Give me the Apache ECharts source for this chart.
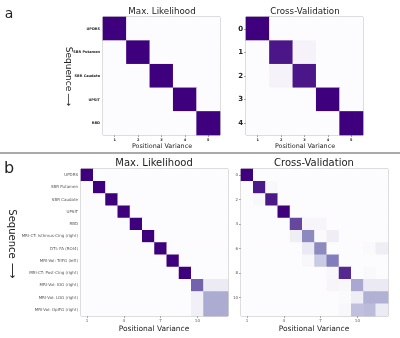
<!DOCTYPE html>
<html>
<head>
<meta charset="utf-8">
<script src="https://cdn.jsdelivr.net/npm/echarts@6/dist/echarts.min.js"></script>
<style>
  html, body { margin: 0; padding: 0; background: #fff; }
  #chart { width: 400px; height: 338px; }
</style>
</head>
<body>
<div id="chart"></div>
<script>
// panel a: 5 features
const shortCols = ['1', '2', '3', '4', '5'];
const shortRowsML = ['UPDRS', 'SBR Putamen', 'SBR Caudate', 'UPSIT', 'RBD'];
const shortRowsCV = ['0', '1', '2', '3', '4'];
const shortML = [
  [1, 0, 0, 0, 0],
  [0, 1, 0, 0, 0],
  [0, 0, 1, 0, 0],
  [0, 0, 0, 1, 0],
  [0, 0, 0, 0, 1]
];
const shortCV = [
  [1, 0, 0, 0, 0],
  [0, 0.93, 0.07, 0, 0],
  [0, 0.07, 0.93, 0, 0],
  [0, 0, 0, 1, 0],
  [0, 0, 0, 0, 1]
];

// panel b: 12 features
const longCols = ['1', '2', '3', '4', '5', '6', '7', '8', '9', '10', '11', '12'];
const longRowsML = ['UPDRS', 'SBR Putamen', 'SBR Caudate', 'UPSIT', 'RBD',
  'MRI-CT: Isthmus-Cing (right)', 'DTI: FA (ROI4)', 'MRI-Vol: TrIFG (left)',
  'MRI-CT: Post-Cing (right)', 'MRI-Vol: IOG (right)', 'MRI-Vol: LOG (right)',
  'MRI-Vol: OpIFG (right)'];
const longRowsCV = ['0', '1', '2', '3', '4', '5', '6', '7', '8', '9', '10', '11'];
const longML = [
  [1, 0, 0, 0, 0, 0, 0, 0, 0, 0, 0, 0],
  [0, 1, 0, 0, 0, 0, 0, 0, 0, 0, 0, 0],
  [0, 0, 1, 0, 0, 0, 0, 0, 0, 0, 0, 0],
  [0, 0, 0, 1, 0, 0, 0, 0, 0, 0, 0, 0],
  [0, 0, 0, 0, 1, 0, 0, 0, 0, 0, 0, 0],
  [0, 0, 0, 0, 0, 1, 0, 0, 0, 0, 0, 0],
  [0, 0, 0, 0, 0, 0, 1, 0, 0, 0, 0, 0],
  [0, 0, 0, 0, 0, 0, 0, 1, 0, 0, 0, 0],
  [0, 0, 0, 0, 0, 0, 0, 0, 1, 0, 0, 0],
  [0, 0, 0, 0, 0, 0, 0, 0, 0, 0.7, 0.14, 0.14],
  [0, 0, 0, 0, 0, 0, 0, 0, 0, 0.1, 0.44, 0.44],
  [0, 0, 0, 0, 0, 0, 0, 0, 0, 0.1, 0.44, 0.44]
];
const longCV = [
  [1, 0, 0, 0, 0, 0, 0, 0, 0, 0, 0, 0],
  [0, 0.92, 0.04, 0, 0, 0, 0, 0, 0, 0, 0, 0],
  [0, 0.04, 0.92, 0, 0, 0, 0, 0, 0, 0, 0, 0],
  [0, 0, 0, 1, 0, 0, 0, 0, 0, 0, 0, 0],
  [0, 0, 0, 0, 0.78, 0.05, 0.05, 0, 0, 0, 0, 0],
  [0, 0, 0, 0, 0.12, 0.57, 0.02, 0.12, 0, 0, 0, 0],
  [0, 0, 0, 0, 0, 0.15, 0.57, 0, 0, 0, 0.02, 0.12],
  [0, 0, 0, 0, 0, 0.04, 0.32, 0.62, 0, 0, 0, 0],
  [0, 0, 0, 0, 0, 0, 0, 0.04, 0.87, 0, 0.03, 0],
  [0, 0, 0, 0, 0, 0, 0, 0.05, 0.04, 0.45, 0.15, 0.15],
  [0, 0, 0, 0, 0, 0, 0, 0, 0.02, 0.12, 0.42, 0.42],
  [0, 0, 0, 0, 0, 0, 0, 0, 0.04, 0.36, 0.38, 0.14]
];

// matplotlib "Purples"
const purples = ['#fcfbfd', '#efedf5', '#dadaeb', '#bcbddc', '#9e9ac8',
  '#807dba', '#6a51a3', '#54278f', '#3f007d'];

const FONT = 'DejaVu Sans';

function toCells(m) {
  let out = [];
  for (let r = 0; r < m.length; r++) {
    for (let c = 0; c < m[r].length; c++) {
      out.push([c, r, m[r][c]]);
    }
  }
  return out;
}

function xAxisFor(idx, cols, every, size, bold) {
  return {
    type: 'category', gridIndex: idx, data: cols,
    axisLine: { show: false },
    axisTick: { show: true, length: 2, interval: every, alignWithLabel: true,
      lineStyle: { color: '#666', width: 0.6 } },
    axisLabel: { interval: every, fontSize: size, margin: 3, fontFamily: FONT,
      fontWeight: bold ? 'bold' : 'normal', color: bold ? '#222' : '#555' },
    splitLine: { show: false }
  };
}

function yAxisFor(idx, rows, every, size, bold, ticks) {
  return {
    type: 'category', gridIndex: idx, data: rows, inverse: true,
    axisLine: { show: false },
    axisTick: { show: ticks, length: 2, interval: every, alignWithLabel: true,
      lineStyle: { color: '#666', width: 0.6 } },
    axisLabel: { interval: every, fontSize: size, margin: 3, fontFamily: FONT,
      fontWeight: bold ? 'bold' : 'normal', color: bold ? '#222' : '#555' },
    splitLine: { show: false }
  };
}

function txt(x, y, text, size, opts) {
  opts = opts || {};
  return {
    type: 'text', x: x, y: y, rotation: opts.rotation || 0, silent: true,
    style: {
      text: text, x: 0, y: 0, fontSize: size, fontFamily: FONT,
      fontWeight: opts.weight || 'normal', fill: opts.color || '#222',
      align: 'center', verticalAlign: 'middle'
    }
  };
}

const gridStyle = { show: true, borderColor: '#a8a8a8', borderWidth: 1, backgroundColor: 'transparent' };

var myChart = echarts.init(document.getElementById('chart'), null, { renderer: 'canvas' });
var option = {
  backgroundColor: '#fff',
  animation: false,
  grid: [
    Object.assign({ left: 103, top: 17, width: 117, height: 118 }, gridStyle),
    Object.assign({ left: 246, top: 17, width: 117, height: 118 }, gridStyle),
    Object.assign({ left: 81, top: 169, width: 147, height: 147 }, gridStyle),
    Object.assign({ left: 241, top: 169, width: 147, height: 147 }, gridStyle)
  ],
  xAxis: [
    xAxisFor(0, shortCols, 0, 3.5, true),
    xAxisFor(1, shortCols, 0, 3.5, true),
    xAxisFor(2, longCols, 2, 4, false),
    xAxisFor(3, longCols, 2, 4, false)
  ],
  yAxis: [
    yAxisFor(0, shortRowsML, 0, 3.5, true, false),
    yAxisFor(1, shortRowsCV, 0, 7, true, true),
    yAxisFor(2, longRowsML, 0, 4, false, false),
    yAxisFor(3, longRowsCV, 1, 4, false, true)
  ],
  visualMap: {
    show: false, type: 'continuous', min: 0, max: 1,
    seriesIndex: [0, 1, 2, 3],
    inRange: { color: purples }
  },
  series: [
    { type: 'heatmap', xAxisIndex: 0, yAxisIndex: 0, data: toCells(shortML) },
    { type: 'heatmap', xAxisIndex: 1, yAxisIndex: 1, data: toCells(shortCV) },
    { type: 'heatmap', xAxisIndex: 2, yAxisIndex: 2, data: toCells(longML) },
    { type: 'heatmap', xAxisIndex: 3, yAxisIndex: 3, data: toCells(longCV) }
  ],
  graphic: [
    // panel letters
    txt(9, 14, 'a', 14),
    txt(9, 169, 'b', 16),
    // separator
    { type: 'line', silent: true, shape: { x1: 0, y1: 153, x2: 400, y2: 153 },
      style: { stroke: '#aaaaaa', lineWidth: 2 } },
    // titles
    txt(162, 12, 'Max. Likelihood', 8.7),
    txt(305, 12, 'Cross-Validation', 8.7),
    txt(154, 163, 'Max. Likelihood', 10),
    txt(314, 163, 'Cross-Validation', 10),
    // x names
    txt(162, 146, 'Positional Variance', 6.4),
    txt(305, 146, 'Positional Variance', 6.4),
    txt(154, 329, 'Positional Variance', 7.5),
    txt(314, 329, 'Positional Variance', 7.5),
    // sequence labels
    txt(68, 69, 'Sequence', 9, { rotation: -Math.PI / 2 }),
    txt(68, 100, '\u27f6', 9, { rotation: -Math.PI / 2 }),
    txt(12, 234, 'Sequence', 10, { rotation: -Math.PI / 2 }),
    txt(12, 271, '\u27f6', 11, { rotation: -Math.PI / 2 })
  ]
};
myChart.setOption(option);
</script>
</body>
</html>
